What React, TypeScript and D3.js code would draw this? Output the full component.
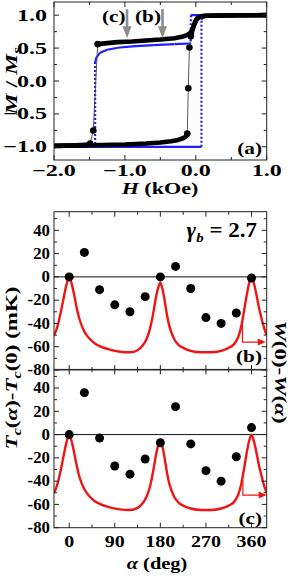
import React from 'react';
import * as d3 from 'd3';

// ---- panel (a): measured hysteresis loop (H in kOe, M/Ms) ----
const descHigh = [[1.0, 1.0], [0.6, 0.998], [0.3, 0.993], [0.15, 0.99], [0.08, 0.985], [0.04, 0.97], [0.01, 0.93], [-0.02, 0.86], [-0.05, 0.78], [-0.08, 0.73], [-0.12, 0.7], [-0.18, 0.675], [-0.3, 0.65], [-0.5, 0.63], [-0.7, 0.615], [-0.9, 0.6], [-1.1, 0.59], [-1.25, 0.575], [-1.384, 0.56]];
const descJump = [[-1.384, 0.56], [-1.446, -0.753], [-1.49, -0.95]];
const descLow = [[-1.49, -0.95], [-1.55, -0.97], [-1.7, -0.978], [-2.0, -0.985]];
const ascLow = [[-2.0, -0.985], [-1.5, -0.977], [-1.0, -0.965], [-0.7, -0.95], [-0.5, -0.935], [-0.35, -0.915], [-0.25, -0.895], [-0.18, -0.87], [-0.14, -0.84], [-0.12, -0.8]];
const ascJump = [[-0.12, -0.8], [-0.106, -0.11], [-0.09, 0.51], [-0.07, 0.68]];
const ascHigh = [[-0.07, 0.68], [-0.04, 0.8], [-0.01, 0.9], [0.02, 0.95], [0.06, 0.975], [0.15, 0.99], [0.5, 0.997], [1.0, 1.0]];

// simulated loop (blue)
const simDesc = [[1.0, 1.0], [-0.07, 1.0], [-0.07, 0.57], [-0.3, 0.56], [-0.6, 0.545], [-0.9, 0.525], [-1.1, 0.505], [-1.25, 0.475], [-1.35, 0.43], [-1.4, 0.36], [-1.42, 0.29], [-1.42, -1.0], [-2.0, -1.0]];
const simAsc = [[-2.0, -1.0], [0.08, -1.0], [0.08, 0.93], [0.1, 0.99], [0.2, 1.0], [1.0, 1.0]];

// fields marked by grey arrows, and their labels
const markedFields = [-0.97, -0.47];
const markedLabels = ['(c)', '(b)'];

const hTicks = [-2, -1, 0, 1];
const mTicks = [-1, -0.5, 0, 0.5, 1];

// ---- panels (b), (c): Tc(alpha)-Tc(0) in mK ----
const alphas = [0, 30, 60, 90, 120, 150, 180, 210, 240, 270, 300, 330, 360];
const tcB = [0, 21, -11, -24, -30, -17, 0, 9, -10, -35, -40, -31, -1];
const tcC = [0, 36, -3, -27, -34, -21, -7, 24, -8, -31, -40, -19, 6];

// model W(0)-W(alpha)
const modelAlpha = [-30, -25, -20, -15, -10, -5, 0, 5, 10, 15, 20, 30, 40, 50, 60, 80, 100, 120, 135, 145, 152, 158, 163, 168, 172, 176, 180, 184, 188, 192, 197, 202, 208, 215, 225, 240, 260, 280, 300, 315, 325, 330, 335, 340, 345, 350, 355, 360, 365, 370, 375, 380, 385, 390];
const modelW = [-50, -45, -37, -27, -16, -6, 0, -6, -16, -27, -36, -47, -53, -57, -59.5, -62.5, -64.3, -64.8, -63, -59, -54, -47, -38, -26, -16, -9, -5, -10, -19, -30, -41, -48, -54, -58, -61, -63.5, -64.8, -64.8, -63.5, -61, -58, -55, -50, -42, -30, -17, -6, 0, -6, -16, -27, -36, -44, -50];

const alphaTicks = [0, 90, 180, 270, 360];
const tcTicks = [-80, -60, -40, -20, 0, 20, 40];

const FONT = "'Liberation Serif','Times New Roman',serif";
const RED = '#f01414';
const BLUE = '#1e1eff';

type LP = { x: number; y: number; size?: number; sx?: number; anchor?: string; rot?: number; italic?: boolean; children: any };
const Lbl = ({ x, y, size = 16, sx = 1.2, anchor = 'middle', rot = 0, italic = false, children }: LP) => (
  <text transform={`translate(${x},${y}) rotate(${rot}) scale(${sx},1)`} fontFamily={FONT} fontWeight="bold"
    fontSize={size} textAnchor={anchor} fontStyle={italic ? 'italic' : 'normal'} fill="#000">{children}</text>
);

const Frame = ({ xs, ys, xMaj, xMin, yMaj, yMin }: any) => {
  const [x0, x1] = xs.range();
  const [y1, y0] = ys.range();
  const lines: any[] = [];
  const tk = (vals: number[], len: number, key: string) => {
    vals.forEach((v, i) => {
      const x = xs(v);
      lines.push(<line key={`${key}xb${i}`} x1={x} x2={x} y1={y1} y2={y1 - len} />);
      lines.push(<line key={`${key}xt${i}`} x1={x} x2={x} y1={y0} y2={y0 + len} />);
    });
  };
  const tky = (vals: number[], len: number, key: string) => {
    vals.forEach((v, i) => {
      const y = ys(v);
      lines.push(<line key={`${key}yl${i}`} x1={x0} x2={x0 + len} y1={y} y2={y} />);
      lines.push(<line key={`${key}yr${i}`} x1={x1} x2={x1 - len} y1={y} y2={y} />);
    });
  };
  tk(xMaj, 5, 'M'); tk(xMin, 3, 'm'); tky(yMaj, 5, 'M'); tky(yMin, 3, 'm');
  return (
    <g stroke="#222" strokeWidth={1} fill="none">
      <rect x={x0} y={y0} width={x1 - x0} height={y1 - y0} />
      {lines}
    </g>
  );
};

export default function App() {
  const xH = d3.scaleLinear().domain([-2, 1]).range([54, 266.7]);
  const yM = d3.scaleLinear().domain([-1.2, 1.2]).range([160, 2]);
  const xA = d3.scaleLinear().domain([-30, 390]).range([54, 266.7]);
  const yB = d3.scaleLinear().domain([-80, 56]).range([370, 211.7]);
  const yC = d3.scaleLinear().domain([-80, 56]).range([527.7, 369.4]);

  const lineH = d3.line<number[]>().x(d => xH(d[0])).y(d => yM(d[1]));
  const fmt1 = d3.format('.1f');

  const blueSegs = (arr: number[][], key: string) =>
    d3.pairs(arr).map(([a, b], i) => (
      <line key={key + i} x1={xH(a[0])} y1={yM(a[1])} x2={xH(b[0])} y2={yM(b[1])}
        stroke={BLUE} strokeWidth={2.2}
        strokeDasharray={Math.abs(a[0] - b[0]) < 1e-6 ? '2 2' : undefined} />
    ));

  const lowerPanel = (ys: any, tc: number[], label: string, arrow: number[], clipId: string, showGamma: boolean) => {
    const model = modelAlpha.map((a, i) => [a, modelW[i]]);
    const redLine = d3.line<number[]>().x(d => xA(d[0])).y(d => ys(d[1])).curve(d3.curveMonotoneX);
    const [aA, aFrom, aTo, aEnd] = arrow;
    const [x0, x1] = xA.range();
    const [yb, yt] = ys.range();
    return (
      <g>
        <clipPath id={clipId}><rect x={x0} y={yt} width={x1 - x0} height={yb - yt} /></clipPath>
        <line x1={x0} x2={x1} y1={ys(0)} y2={ys(0)} stroke="#111" strokeWidth={1} />
        <g clipPath={`url(#${clipId})`}>
          <path d={redLine(model) || ''} fill="none" stroke={RED} strokeWidth={2.4} />
        </g>
        <polyline points={`${xA(aA)},${ys(aFrom)} ${xA(aA)},${ys(aTo)} ${xA(aEnd) - 6},${ys(aTo)}`}
          fill="none" stroke={RED} strokeWidth={1.2} />
        <path d={`M${xA(aEnd)},${ys(aTo)} l-8,-3.5 l0,7 z`} fill={RED} />
        {alphas.map((a, i) => (
          <circle key={i} cx={xA(a)} cy={ys(tc[i])} r={4.5} fill="#000" />
        ))}
        <Frame xs={xA} ys={ys} xMaj={alphaTicks} xMin={d3.range(45, 390, 90)}
          yMaj={tcTicks} yMin={d3.range(-70, 56, 20)} />
        {tcTicks.map(t => (
          <Lbl key={t} x={50} y={ys(t) + 5.3} size={16} sx={1.05} anchor="end">{t}</Lbl>
        ))}
        <Lbl x={262} y={label === '(b)' ? 362 : 524} size={17} sx={1.25} anchor="end">{label}</Lbl>
        {showGamma && (
          <text transform="translate(257,237) scale(1.15,1)" fontFamily={FONT} fontWeight="bold" fontSize={20} textAnchor="end">
            <tspan fontStyle="italic">γ</tspan>
            <tspan fontStyle="italic" fontSize={13} dy={5}>b</tspan>
            <tspan dy={-5}> = 2.7</tspan>
          </text>
        )}
      </g>
    );
  };

  return (
    <div style={{ position: 'absolute', left: 0, top: 0 }}>
      <svg width={291} height={578} style={{ display: 'block', background: '#fff' }}>
        {/* ---------- panel (a) ---------- */}
        <clipPath id="clipA"><rect x={54} y={2} width={212.7} height={158} /></clipPath>
        <g clipPath="url(#clipA)">
          {blueSegs(simDesc, 'sd')}
          {blueSegs(simAsc, 'sa')}
          {[descHigh, descLow, ascLow, ascHigh].map((arr, i) => (
            <path key={i} d={lineH(arr as any) || ''} fill="none" stroke="#000" strokeWidth={4.6} strokeLinejoin="round" />
          ))}
          {[descJump, ascJump].map((arr, i) => (
            <g key={i}>
              <path d={lineH(arr as any) || ''} fill="none" stroke="#444" strokeWidth={0.9} />
              {arr.map((p, j) => <circle key={j} cx={xH(p[0])} cy={yM(p[1])} r={3.3} fill="#000" />)}
            </g>
          ))}
        </g>
        {markedFields.map((h, i) => (
          <g key={i}>
            <line x1={xH(h)} x2={xH(h)} y1={yM(1.09)} y2={yM(0.78)} stroke="#8c8c8c" strokeWidth={2.6} />
            <path d={`M${xH(h)},${yM(0.65)} l-4.5,-12 l9,0 z`} fill="#8c8c8c" />
            <Lbl x={xH(h) - 1.5} y={22} size={17} sx={1.25} anchor="end">{markedLabels[i]}</Lbl>
          </g>
        ))}
        <Frame xs={xH} ys={yM} xMaj={hTicks} xMin={[-1.5, -0.5, 0.5]}
          yMaj={mTicks} yMin={[-0.75, -0.25, 0.25, 0.75]} />
        {mTicks.map(t => (
          <Lbl key={t} x={47} y={yM(t) + 5.5} size={16} sx={1.5} anchor="end">{fmt1(t)}</Lbl>
        ))}
        {hTicks.map(t => (
          <Lbl key={t} x={xH(t)} y={176} size={16} sx={1.5}>{fmt1(t)}</Lbl>
        ))}
        <Lbl x={262} y={154} size={17} sx={1.25} anchor="end">(a)</Lbl>
        <text transform="translate(160,194) scale(1.3,1)" fontFamily={FONT} fontWeight="bold" fontSize={17} textAnchor="middle">
          <tspan fontStyle="italic">H</tspan> (kOe)
        </text>
        <text transform="translate(16.5,81) rotate(-90) scale(1.4,1)" fontFamily={FONT} fontWeight="bold" fontSize={17} textAnchor="middle">
          <tspan fontStyle="italic">M</tspan> / <tspan fontStyle="italic">M</tspan>
          <tspan fontStyle="italic" fontSize={12} dy={4}>s</tspan>
        </text>

        {/* ---------- panels (b), (c) ---------- */}
        {lowerPanel(yB, tcB, '(b)', [342, -41, -56, 388], 'clipB', true)}
        {lowerPanel(yC, tcC, '(c)', [343, -39, -52, 390], 'clipC', false)}
        {alphaTicks.map(t => (
          <Lbl key={t} x={xA(t)} y={547} size={16} sx={1.25}>{t}</Lbl>
        ))}
        <text transform="translate(157,569) scale(1.2,1)" fontFamily={FONT} fontWeight="bold" fontSize={17} textAnchor="middle">
          <tspan fontStyle="italic">α</tspan> (deg)
        </text>
        <text transform="translate(17,368) rotate(-90) scale(1.35,1)" fontFamily={FONT} fontWeight="bold" fontSize={17} textAnchor="middle">
          <tspan fontStyle="italic">T</tspan><tspan fontStyle="italic" fontSize={12} dy={4}>c</tspan>
          <tspan dy={-4}>(</tspan><tspan fontStyle="italic">α</tspan>)-<tspan fontStyle="italic">T</tspan>
          <tspan fontStyle="italic" fontSize={12} dy={4}>c</tspan><tspan dy={-4}>(0) (mK)</tspan>
        </text>
        <text transform="translate(275,372) rotate(90) scale(1.35,1)" fontFamily={FONT} fontWeight="bold" fontSize={17} textAnchor="middle">
          <tspan fontStyle="italic">W</tspan>(0)-<tspan fontStyle="italic">W</tspan>(<tspan fontStyle="italic">α</tspan>)
        </text>
      </svg>
    </div>
  );
}
